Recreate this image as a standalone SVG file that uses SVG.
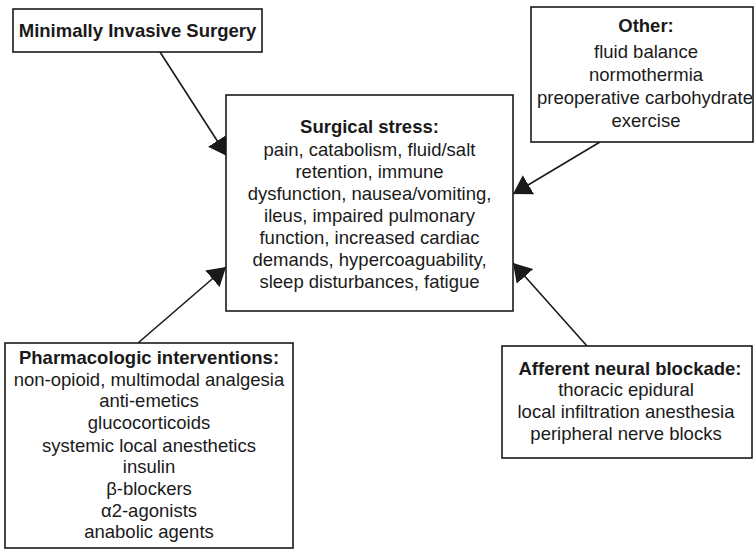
<svg xmlns="http://www.w3.org/2000/svg" width="755" height="559" viewBox="0 0 755 559">
  <style>
    .box { fill: #ffffff; stroke: #1a1a1a; stroke-width: 1.6; }
    .t { font-family: "Liberation Sans", Arial, sans-serif; font-size: 18.5px; fill: #1a1a1a; text-anchor: middle; }
    .b { font-weight: bold; }
    .conn { stroke: #1a1a1a; stroke-width: 1.6; fill: none; marker-end: url(#arrow); }
  </style>
  <defs>
    <marker id="arrow" markerUnits="userSpaceOnUse" viewBox="0 -11 18 22" markerWidth="18" markerHeight="22" refX="18" refY="0" orient="auto">
      <path d="M0,-11 L18,0 L0,11 z" fill="#1a1a1a"/>
    </marker>
  </defs>
  <rect x="0" y="0" width="755" height="559" fill="#ffffff"/>
  <g id="connectors">
    <line class="conn" x1="160" y1="52" x2="227" y2="156"/>
    <line class="conn" x1="600" y1="142" x2="513" y2="194"/>
    <line class="conn" x1="138" y1="343" x2="226" y2="267"/>
    <line class="conn" x1="587" y1="346" x2="513" y2="263"/>
  </g>
  <g id="minimally-invasive">
    <rect class="box" x="13" y="9" width="249" height="43"/>
    <text class="t b" x="137.5" y="37">Minimally Invasive Surgery</text>
  </g>
  <g id="other">
    <rect class="box" x="531" y="7" width="222" height="135"/>
    <text class="t b" x="646" y="32">Other:</text>
    <text class="t" x="646" y="58">fluid balance</text>
    <text class="t" x="646" y="81">normothermia</text>
    <text class="t" x="645" y="104">preoperative carbohydrate</text>
    <text class="t" x="646" y="127">exercise</text>
  </g>
  <g id="surgical-stress">
    <rect class="box" x="226" y="95" width="287" height="216"/>
    <text class="t b" x="369.5" y="133">Surgical stress:</text>
    <text class="t" x="369.5" y="156">pain, catabolism, fluid/salt</text>
    <text class="t" x="369.5" y="178">retention, immune</text>
    <text class="t" x="369.5" y="200">dysfunction, nausea/vomiting,</text>
    <text class="t" x="369.5" y="222">ileus, impaired pulmonary</text>
    <text class="t" x="369.5" y="244">function, increased cardiac</text>
    <text class="t" x="369.5" y="266">demands, hypercoaguability,</text>
    <text class="t" x="369.5" y="288">sleep disturbances, fatigue</text>
  </g>
  <g id="pharmacologic">
    <rect class="box" x="5" y="343" width="288" height="205"/>
    <text class="t b" x="149" y="364">Pharmacologic interventions:</text>
    <text class="t" x="149" y="386">non-opioid, multimodal analgesia</text>
    <text class="t" x="149" y="407">anti-emetics</text>
    <text class="t" x="149" y="429">glucocorticoids</text>
    <text class="t" x="149" y="452">systemic local anesthetics</text>
    <text class="t" x="149" y="473">insulin</text>
    <text class="t" x="149" y="495">β-blockers</text>
    <text class="t" x="149" y="517">α2-agonists</text>
    <text class="t" x="149" y="538">anabolic agents</text>
  </g>
  <g id="afferent">
    <rect class="box" x="502" y="346" width="250" height="112"/>
    <text class="t b" x="630" y="375">Afferent neural blockade:</text>
    <text class="t" x="626" y="396">thoracic epidural</text>
    <text class="t" x="626" y="418">local infiltration anesthesia</text>
    <text class="t" x="626" y="440">peripheral nerve blocks</text>
  </g>
</svg>
